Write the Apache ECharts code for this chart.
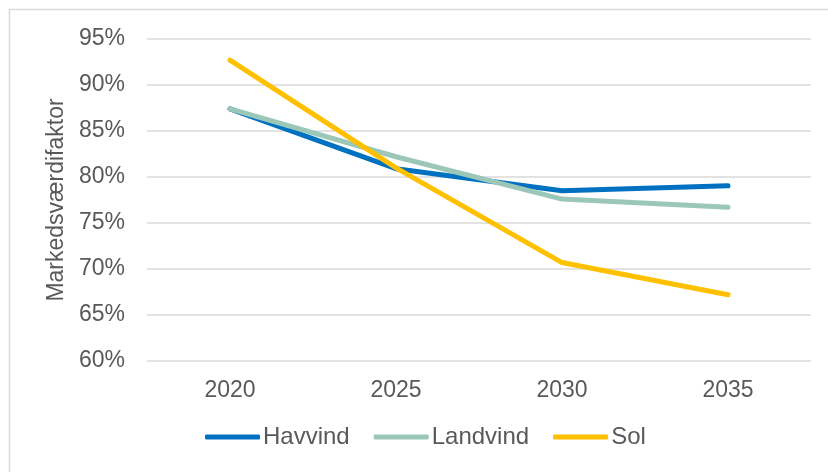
<!DOCTYPE html>
<html>
<head>
<meta charset="utf-8">
<script src="https://cdn.jsdelivr.net/npm/echarts@6/dist/echarts.min.js"></script>
<style>
  html, body { margin: 0; padding: 0; background: #fff; }
  #chart { width: 828px; height: 472px; }
</style>
</head>
<body>
<div id="chart"></div>
<script>
const years = ['2020', '2025', '2030', '2035'];
const havvind = [87.4, 80.9, 78.5, 79.05];
const landvind = [87.4, 82.2, 77.6, 76.7];
const sol = [92.7, 81.0, 70.7, 67.2];

const textColor = '#595959';
const font = 'Liberation Sans, Arial, sans-serif';
const fontSize = 23;

const chart = echarts.init(document.getElementById('chart'));

function lineSeries(name, data, color) {
  return {
    name,
    type: 'line',
    data,
    symbol: 'none',
    lineStyle: { color, width: 5, cap: 'round', join: 'round' },
    itemStyle: { color }
  };
}

const option = {
  backgroundColor: '#fff',
  animation: false,
  graphic: [{
    type: 'rect',
    shape: { x: 9.5, y: 9.5, width: 900, height: 500 },
    style: { fill: 'none', stroke: '#D9D9D9', lineWidth: 1.5 },
    silent: true
  }],
  grid: { left: 147, right: 17, top: 39, bottom: 111 },
  legend: {
    bottom: 18,
    left: 200,
    itemWidth: 55,
    itemHeight: 5,
    itemGap: 24,
    icon: 'roundRect',
    textStyle: { color: textColor, fontSize: 24, fontFamily: font, padding: [0, 0, 0, -2] },
    data: ['Havvind', 'Landvind', 'Sol']
  },
  xAxis: {
    type: 'category',
    data: years,
    boundaryGap: true,
    axisLine: { show: false },
    axisTick: { show: false },
    axisLabel: { color: textColor, fontSize, fontFamily: font, margin: 18 }
  },
  yAxis: {
    type: 'value',
    min: 60,
    max: 95,
    interval: 5,
    name: 'Markedsværdifaktor',
    nameLocation: 'middle',
    nameRotate: 90,
    nameGap: 78,
    nameTextStyle: { color: textColor, fontSize, fontFamily: font },
    axisLine: { show: false },
    axisTick: { show: false },
    splitLine: { lineStyle: { color: '#D9D9D9', width: 1.5 } },
    axisLabel: {
      color: textColor, fontSize, fontFamily: font, margin: 22,
      formatter: v => v + '%'
    }
  },
  series: [
    lineSeries('Havvind', havvind, '#0070C0'),
    lineSeries('Landvind', landvind, '#9BC7B9'),
    lineSeries('Sol', sol, '#FFC000')
  ]
};

chart.setOption(option);
</script>
</body>
</html>
